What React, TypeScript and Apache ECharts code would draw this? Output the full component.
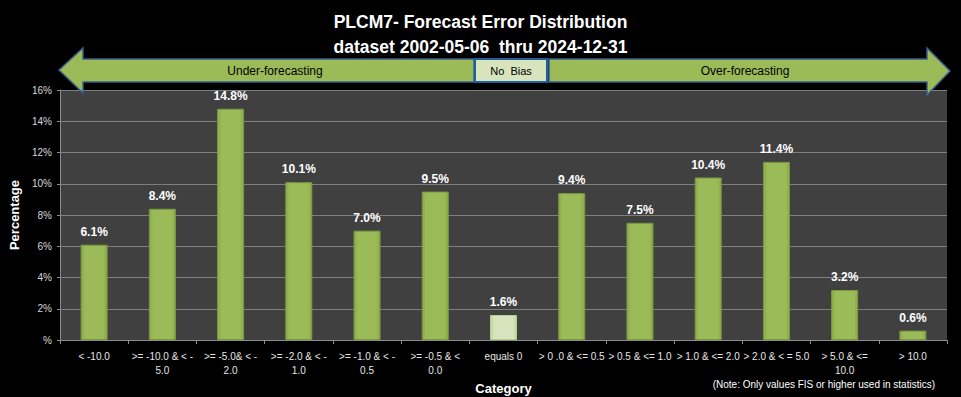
import React, { useEffect, useRef } from "react";
import * as echarts from "echarts";

const categories = [
  "< -10.0",
  ">= -10.0 & < -\n5.0",
  ">= -5.0& < -\n2.0",
  ">= -2.0 & < -\n1.0",
  ">= -1.0 & < -\n0.5",
  ">= -0.5 & <\n0.0",
  "equals 0",
  "> 0 .0 & <= 0.5",
  "> 0.5 & <= 1.0",
  "> 1.0 & <= 2.0",
  "> 2.0 & < = 5.0",
  "> 5.0 & <=\n10.0",
  "> 10.0",
];
const values = [6.1, 8.4, 14.8, 10.1, 7.0, 9.5, 1.6, 9.4, 7.5, 10.4, 11.4, 3.2, 0.6];
const highlightCategory = "equals 0";
const yTicks = [0, 2, 4, 6, 8, 10, 12, 14, 16];

const titleText = "PLCM7- Forecast Error Distribution\ndataset 2002-05-06  thru 2024-12-31";
const noteText = "(Note: Only values FIS or higher used in statistics)";

const BASE = "'Liberation Sans', Arial, sans-serif";

const green = "#9BBB59";
const lightGreen = "#D7E4BD";
const arrowBorder = "#3B5E8C";

export default function App() {
  const ref = useRef<HTMLDivElement>(null);
  useEffect(() => {
    if (!ref.current) return;
    const chart = echarts.init(ref.current, undefined, { renderer: "svg" });
    const barGrad = (c1: string, c2: string) =>
      new echarts.graphic.LinearGradient(0, 0, 1, 0, [
        { offset: 0, color: c2 },
        { offset: 0.15, color: c1 },
        { offset: 0.85, color: c1 },
        { offset: 1, color: c2 },
      ]);
    const data = values.map((v, i) => {
      const hl = categories[i] === highlightCategory;
      return {
        value: v,
        itemStyle: {
          color: hl ? barGrad(lightGreen, "#C3D69B") : barGrad(green, "#8AAA4A"),
          borderColor: hl ? "#B7CC8A" : "#7A9A3E",
          borderWidth: 1,
        },
      };
    });
    chart.setOption({
      animation: false,
      backgroundColor: "#000000",
      title: {
        text: titleText,
        left: "center",
        top: 4,
        textStyle: {
          color: "#ffffff",
          fontFamily: BASE,
          fontWeight: "bold",
          fontSize: 17.5,
          lineHeight: 25,
        },
      },
      grid: {
        left: 60,
        right: 14,
        top: 90,
        bottom: 57,
        containLabel: false,
        outerBoundsMode: "none",
        show: true,
        backgroundColor: "#404040",
        borderWidth: 0,
      },
      xAxis: {
        type: "category",
        data: categories,
        name: "Category",
        nameLocation: "middle",
        nameGap: 40,
        nameTextStyle: { color: "#ffffff", fontWeight: "bold", fontSize: 13, fontFamily: BASE },
        axisLine: { lineStyle: { color: "#8c8c8c", width: 1 } },
        axisTick: { show: true, length: 4, alignWithLabel: false, lineStyle: { color: "#8c8c8c" } },
        axisLabel: {
          color: "#e6e6e6",
          fontSize: 10,
          fontFamily: BASE,
          interval: 0,
          lineHeight: 14,
          margin: 9,
        },
      },
      yAxis: {
        type: "value",
        min: 0,
        max: 16,
        interval: 2,
        name: "Percentage",
        nameLocation: "middle",
        nameGap: 36,
        nameTextStyle: { color: "#ffffff", fontWeight: "bold", fontSize: 13, fontFamily: BASE },
        axisLine: { show: true, lineStyle: { color: "#8c8c8c" } },
        axisTick: { show: true, length: 3, lineStyle: { color: "#8c8c8c" } },
        axisLabel: {
          color: "#d9d9d9",
          fontSize: 10,
          fontFamily: BASE,
          margin: 8,
          formatter: (v: number) => (yTicks.includes(v) ? (v === 0 ? "%" : `${v}%`) : ""),
        },
        splitLine: { show: true, lineStyle: { color: "#7f7f7f", width: 1 } },
      },
      series: [
        {
          type: "bar",
          data,
          barWidth: 27,
          label: {
            show: true,
            position: "top",
            distance: 7,
            color: "#ffffff",
            fontWeight: "bold",
            fontSize: 12,
            fontFamily: BASE,
            formatter: (p: any) => `${Number(p.value).toFixed(1)}%`,
          },
        },
      ],
      graphic: [
        {
          type: "polygon",
          z: 10,
          shape: {
            points: [
              [59, 70], [83, 48], [83, 59], [474, 59], [474, 82], [83, 82], [83, 93],
            ],
          },
          style: { fill: green, stroke: arrowBorder, lineWidth: 1.5 },
        },
        {
          type: "polygon",
          z: 10,
          shape: {
            points: [
              [950, 71], [927, 48], [927, 59], [549, 59], [549, 82], [927, 82], [927, 95],
            ],
          },
          style: { fill: green, stroke: arrowBorder, lineWidth: 1.5 },
        },
        {
          type: "rect",
          z: 11,
          shape: { x: 475, y: 59, width: 72, height: 23 },
          style: { fill: lightGreen, stroke: "#1F5F9E", lineWidth: 2 },
        },
        {
          type: "text",
          z: 12,
          x: 275,
          y: 71,
          style: { text: "Under-forecasting", fill: "#000000", font: `12px ${BASE}`, align: "center", verticalAlign: "middle" },
        },
        {
          type: "text",
          z: 12,
          x: 745,
          y: 71,
          style: { text: "Over-forecasting", fill: "#000000", font: `12px ${BASE}`, align: "center", verticalAlign: "middle" },
        },
        {
          type: "text",
          z: 12,
          x: 511,
          y: 71,
          style: { text: "No  Bias", fill: "#000000", font: `11px ${BASE}`, align: "center", verticalAlign: "middle" },
        },
        {
          type: "text",
          z: 12,
          x: 935,
          y: 384,
          style: { text: noteText, fill: "#ffffff", font: `10px ${BASE}`, align: "right", verticalAlign: "middle" },
        },
      ],
    });
    return () => chart.dispose();
  }, []);
  return <div ref={ref} style={{ width: 961, height: 397, position: "absolute", left: 0, top: 0 }} />;
}
